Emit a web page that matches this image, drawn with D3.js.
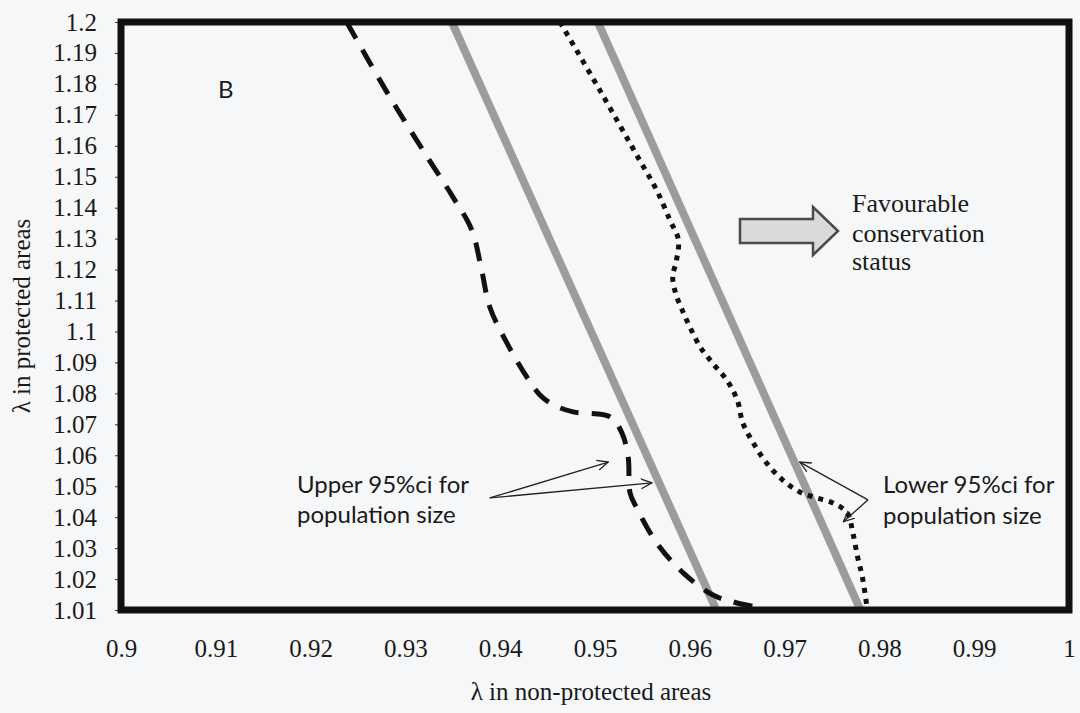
<!DOCTYPE html>
<html>
<head>
<meta charset="utf-8">
<script src="https://cdn.jsdelivr.net/npm/d3@7"></script>
<style>
  html, body { margin: 0; padding: 0; background: #f6f7f8; }
  svg { display: block; }
</style>
</head>
<body>
<svg id="chart" width="1080" height="713"></svg>
<script>
// Axis ticks
const xTicks = [0.9, 0.91, 0.92, 0.93, 0.94, 0.95, 0.96, 0.97, 0.98, 0.99, 1];
const yTicks = [1.01, 1.02, 1.03, 1.04, 1.05, 1.06, 1.07, 1.08, 1.09, 1.1,
                1.11, 1.12, 1.13, 1.14, 1.15, 1.16, 1.17, 1.18, 1.19, 1.2];

// Grey threshold lines (lambda non-protected vs lambda protected)
const thresholdUpperX = [0.9349, 0.9628];
const thresholdUpperY = [1.2, 1.01];
const thresholdLowerX = [0.9503, 0.9780];
const thresholdLowerY = [1.2, 1.01];

// Upper 95% ci for population size (dashed)
const upperCiX = [0.9238, 0.9281, 0.9323, 0.9350, 0.9370, 0.9380, 0.9389, 0.9407, 0.9428,
                  0.9442, 0.9456, 0.9477, 0.9516, 0.9528, 0.9535, 0.9537, 0.9544, 0.9565,
                  0.9593, 0.9624, 0.9646, 0.9669];
const upperCiY = [1.2, 1.1771, 1.1564, 1.1435, 1.1328, 1.1205, 1.1079, 1.0963, 1.0853,
                  1.0795, 1.0763, 1.0740, 1.0724, 1.0675, 1.0594, 1.0478, 1.0430, 1.0317,
                  1.0220, 1.0149, 1.0126, 1.0110];

// Lower 95% ci for population size (dotted)
const lowerCiX = [0.9463, 0.9505, 0.9547, 0.9565, 0.9579, 0.9588, 0.9586, 0.9582, 0.9585,
                  0.9592, 0.9600, 0.9611, 0.9624, 0.9639, 0.9650, 0.9656, 0.9667, 0.9681,
                  0.9698, 0.9716, 0.9734, 0.9751, 0.9766, 0.9772, 0.9777, 0.9782, 0.9787];
const lowerCiY = [1.2, 1.1780, 1.1554, 1.1457, 1.1360, 1.1296, 1.1231, 1.1176, 1.1124,
                  1.1069, 1.1015, 1.0950, 1.0898, 1.0843, 1.0779, 1.0704, 1.0640, 1.0575,
                  1.0520, 1.0481, 1.0462, 1.0446, 1.0414, 1.0349, 1.0271, 1.0207, 1.0107];

const svg = d3.select("#chart");
const margin = { left: 121, right: 11, top: 22, bottom: 103 };
const W = 1080, H = 713;
const serifFont = "'Liberation Serif', 'Times New Roman', 'DejaVu Serif', serif";
const sansFont = "Lato, 'Open Sans', sans-serif";

const x = d3.scaleLinear().domain([0.9, 1]).range([margin.left, W - margin.right]);
const y = d3.scaleLinear().domain([1.01, 1.2]).range([H - margin.bottom, margin.top]);

const zip = (xs, ys) => xs.map((v, i) => [v, ys[i]]);

// Clip the series to the plot frame
const defs = svg.append("defs");
defs.append("clipPath").attr("id", "plotClip")
  .append("rect")
  .attr("x", x(0.9)).attr("y", y(1.2))
  .attr("width", x(1) - x(0.9)).attr("height", y(1.01) - y(1.2));

defs.append("marker")
  .attr("id", "openHead")
  .attr("viewBox", "0 0 12 12")
  .attr("refX", 11).attr("refY", 6)
  .attr("markerWidth", 12).attr("markerHeight", 12)
  .attr("markerUnits", "userSpaceOnUse")
  .attr("orient", "auto")
  .append("path")
  .attr("d", "M0,1 L11,6 L0,11")
  .attr("fill", "none")
  .attr("stroke", "#222")
  .attr("stroke-width", 1.3);

// Y axis ticks and labels
const yAxis = d3.axisLeft(y).tickValues(yTicks).tickSize(6).tickPadding(18)
  .tickFormat(d => d3.format("")(+d.toFixed(2)));
const gy = svg.append("g").attr("transform", `translate(${x(0.9)},0)`).call(yAxis);
gy.attr("font-family", null);
gy.select(".domain").remove();
gy.selectAll(".tick line").attr("stroke", "#333").attr("stroke-width", 1);
gy.selectAll(".tick text")
  .attr("fill", "#1a1a1a")
  .style("font-family", serifFont)
  .style("font-size", "25px");

// X axis labels (no tick marks)
const xAxis = d3.axisBottom(x).tickValues(xTicks).tickSize(0).tickPadding(29)
  .tickFormat(d => d3.format("")(+d.toFixed(2)));
const gx = svg.append("g").attr("transform", `translate(0,${y(1.01)})`).call(xAxis);
gx.attr("font-family", null);
gx.select(".domain").remove();
gx.selectAll(".tick text")
  .attr("fill", "#1a1a1a")
  .style("font-family", serifFont)
  .style("font-size", "25px");

// Axis titles
svg.append("text")
  .attr("x", (x(0.9) + x(1)) / 2 - 4).attr("y", 700)
  .attr("text-anchor", "middle")
  .attr("fill", "#1a1a1a")
  .style("font-family", serifFont)
  .style("font-size", "25px")
  .text("λ in non-protected areas");

svg.append("text")
  .attr("transform", `translate(30,${(y(1.01) + y(1.2)) / 2}) rotate(-90)`)
  .attr("text-anchor", "middle")
  .attr("fill", "#1a1a1a")
  .style("font-family", serifFont)
  .style("font-size", "25px")
  .text("λ in protected areas");

const plot = svg.append("g").attr("clip-path", "url(#plotClip)");
const line = d3.line().x(d => x(d[0])).y(d => y(d[1]));
const smooth = d3.line().x(d => x(d[0])).y(d => y(d[1])).curve(d3.curveCatmullRom.alpha(0.5));

// Grey threshold lines
[[thresholdUpperX, thresholdUpperY], [thresholdLowerX, thresholdLowerY]].forEach(([xs, ys]) => {
  plot.append("path")
    .attr("d", line(zip(xs, ys)))
    .attr("fill", "none")
    .attr("stroke", "#9c9c9c")
    .attr("stroke-width", 8);
});

// Upper ci, dashed
plot.append("path")
  .attr("d", smooth(zip(upperCiX, upperCiY)))
  .attr("fill", "none")
  .attr("stroke", "#111")
  .attr("stroke-width", 5)
  .attr("stroke-dasharray", "19,13");

// Lower ci, dotted
plot.append("path")
  .attr("d", smooth(zip(lowerCiX, lowerCiY)))
  .attr("fill", "none")
  .attr("stroke", "#111")
  .attr("stroke-width", 5)
  .attr("stroke-dasharray", "5,6");

// Plot frame
svg.append("rect")
  .attr("x", x(0.9)).attr("y", y(1.2))
  .attr("width", x(1) - x(0.9)).attr("height", y(1.01) - y(1.2))
  .attr("fill", "none")
  .attr("stroke", "#111")
  .attr("stroke-width", 7);

// Panel letter
svg.append("text")
  .attr("x", 218).attr("y", 98)
  .attr("fill", "#1a1a1a")
  .style("font-family", sansFont)
  .style("font-size", "24px")
  .text("B");

// Annotation: upper ci
const upperStart = [0.9389, 1.0462];
[[0.9514, 1.0578], [0.9560, 1.0511]].forEach(t => {
  svg.append("line")
    .attr("x1", x(upperStart[0])).attr("y1", y(upperStart[1]))
    .attr("x2", x(t[0])).attr("y2", y(t[1]))
    .attr("stroke", "#222").attr("stroke-width", 1.3)
    .attr("marker-end", "url(#openHead)");
});
const upperLabel = svg.append("text")
  .attr("fill", "#1a1a1a")
  .style("font-family", sansFont)
  .style("font-size", "24px");
upperLabel.append("tspan").attr("x", 297).attr("y", 493).text("Upper 95%ci for");
upperLabel.append("tspan").attr("x", 297).attr("y", 523).text("population size");

// Annotation: lower ci
const lowerStart = [0.9788, 1.0456];
[[0.9716, 1.0578], [0.9762, 1.0385]].forEach(t => {
  svg.append("line")
    .attr("x1", x(lowerStart[0])).attr("y1", y(lowerStart[1]))
    .attr("x2", x(t[0])).attr("y2", y(t[1]))
    .attr("stroke", "#222").attr("stroke-width", 1.3)
    .attr("marker-end", "url(#openHead)");
});
const lowerLabel = svg.append("text")
  .attr("fill", "#1a1a1a")
  .style("font-family", sansFont)
  .style("font-size", "24px");
lowerLabel.append("tspan").attr("x", 883).attr("y", 493).text("Lower 95%ci for");
lowerLabel.append("tspan").attr("x", 883).attr("y", 524).text("population size");

// Block arrow with "Favourable conservation status"
const arrow = d3.path();
arrow.moveTo(740, 219);
arrow.lineTo(813, 219);
arrow.lineTo(813, 207);
arrow.lineTo(838, 231);
arrow.lineTo(813, 255);
arrow.lineTo(813, 243);
arrow.lineTo(740, 243);
arrow.closePath();
svg.append("path")
  .attr("d", arrow.toString())
  .attr("fill", "#dadada")
  .attr("stroke", "#4a4a4a")
  .attr("stroke-width", 2.5)
  .attr("stroke-linejoin", "miter");

const fav = svg.append("text")
  .attr("fill", "#1a1a1a")
  .style("font-family", serifFont)
  .style("font-size", "26px");
fav.append("tspan").attr("x", 852).attr("y", 212).text("Favourable");
fav.append("tspan").attr("x", 852).attr("y", 242).text("conservation");
fav.append("tspan").attr("x", 852).attr("y", 270).text("status");
</script>
</body>
</html>
